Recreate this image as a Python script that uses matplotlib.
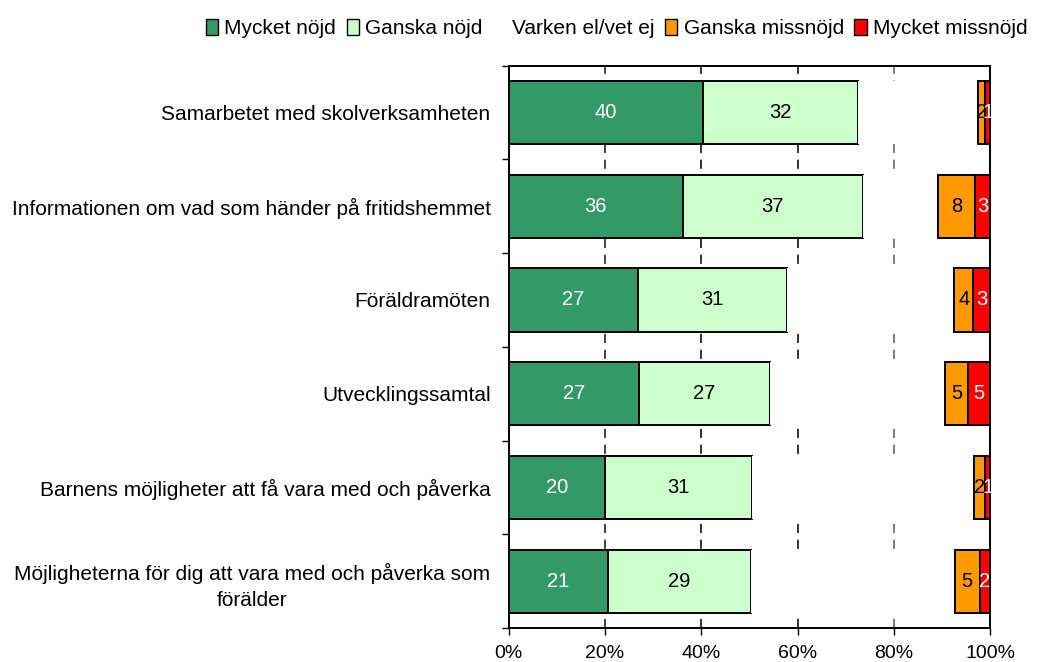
import numpy as np
import matplotlib
matplotlib.use("Agg")
import matplotlib.pyplot as plt
from matplotlib.patches import Patch

plt.rcParams['font.family'] = ['Liberation Sans', 'DejaVu Sans']

categories = ["Samarbetet med skolverksamheten",
              "Informationen om vad som händer på fritidshemmet",
              "Föräldramöten",
              "Utvecklingssamtal",
              "Barnens möjligheter att få vara med och påverka",
              "Möjligheterna för dig att vara med och påverka som\nförälder"]
series_names = ["Mycket nöjd", "Ganska nöjd", "Varken el/vet ej", "Ganska missnöjd", "Mycket missnöjd"]
mycket_nojd = [40.3, 36.2, 26.9, 27.0, 20.0, 20.7]
ganska_nojd = [32.3, 37.3, 30.8, 27.3, 30.6, 29.6]
ganska_missnojd = [1.5, 7.8, 4.0, 4.7, 2.3, 5.2]
mycket_missnojd = [1.0, 3.1, 3.5, 4.6, 1.1, 2.2]
labels_mn = ["40", "36", "27", "27", "20", "21"]
labels_gn = ["32", "37", "31", "27", "31", "29"]
labels_gm = ["2", "8", "4", "5", "2", "5"]
labels_mm = ["1", "3", "3", "5", "1", "2"]

varken = [100 - a - b - c - d for a, b, c, d in zip(mycket_nojd, ganska_nojd, ganska_missnojd, mycket_missnojd)]

colors = ["#339966", "#CCFFCC", "#FFFFFF", "#FF9900", "#FF0000"]
text_colors = ["white", "black", None, "black", "white"]

fig = plt.figure(figsize=(10.38, 6.62), dpi=100)
ax = fig.add_axes([0.490, 0.051, 0.464, 0.850])

y = np.arange(len(categories))
values = [mycket_nojd, ganska_nojd, varken, ganska_missnojd, mycket_missnojd]
texts = [labels_mn, labels_gn, None, labels_gm, labels_mm]
left = np.zeros(len(categories))
for i, vals in enumerate(values):
    vals = np.array(vals)
    if i == 2:
        ax.barh(y, vals, left=left, height=0.675, color=colors[i], edgecolor="none", zorder=3)
    else:
        ax.barh(y, vals, left=left, height=0.675, color=colors[i], edgecolor="black", linewidth=1.4, zorder=3)
        for yy, l, v, t in zip(y, left, vals, texts[i]):
            ax.text(l + v / 2, yy, t, ha="center", va="center", fontsize=14.5, color=text_colors[i], zorder=4)
    left += vals

ax.set_xlim(0, 100)
ax.set_ylim(len(categories) - 0.5, -0.5)
ax.set_xticks([0, 20, 40, 60, 80, 100])
ax.set_xticklabels(["0%", "20%", "40%", "60%", "80%", "100%"], fontsize=14)
for xv, c in zip([20, 40, 60, 80], ["#222222", "#111111", "#111111", "#666666"]):
    ax.axvline(xv, color=c, linestyle=(0, (5.5, 4)), linewidth=1.2, zorder=1)

ax.set_yticks(y)
ax.set_yticklabels(categories, fontsize=15, multialignment="center", linespacing=1.45)
ax.tick_params(axis="y", which="major", length=0, pad=13)
ax.set_yticks(np.arange(-0.5, len(categories), 1), minor=True)
ax.tick_params(axis="y", which="minor", length=5, width=1, direction="out")
ax.tick_params(axis="x", length=5, width=1, direction="out", pad=7)
for s in ax.spines.values():
    s.set_linewidth(1.4)
    s.set_color("black")

handles = [Patch(facecolor=colors[i], edgecolor="black" if i != 2 else "white", linewidth=1) for i in range(5)]
fig.legend(handles, series_names, loc="upper right", bbox_to_anchor=(1.008, 1.0), ncol=5, frameon=False,
           fontsize=15, handlelength=0.6, handleheight=0.8, handletextpad=0.3, columnspacing=0.5)

plt.savefig("out.png", dpi=100)
